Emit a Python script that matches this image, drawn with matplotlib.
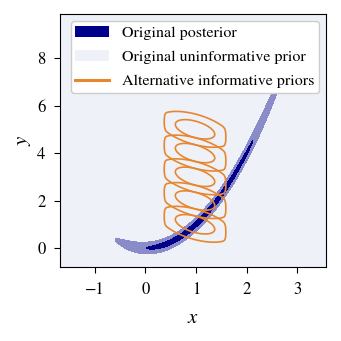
import numpy as np
import matplotlib
matplotlib.use("Agg")
import matplotlib.pyplot as plt
from matplotlib.patches import Patch
from matplotlib.lines import Line2D

# ---- data ----
x_ticks = [-1, 0, 1, 2, 3]
y_ticks = [0, 2, 4, 6, 8]
x_limits = (-1.69, 3.57)
y_limits = (-0.8, 9.86)

# alternative informative priors (five truncated, correlated Gaussians)
prior_centers_y = [1, 2, 3, 4, 5]
prior_center_x = 0.98
prior_half_axes = (0.39, 0.35)   # inner-contour half extents (x, sheared y)
prior_shear = 0.54
prior_clip = 0.61                # truncation half-width in x
prior_levels = [1.0, 3.42]

# original posterior: banana around y = x^2
post_center_x = 1.07
post_half_len = 1.67
post_width = 0.27
post_width_growth = 0.08
post_power = 4
post_inner_level = 0.16

labels = ["Original posterior", "Original uninformative prior",
          "Alternative informative priors"]

bg = "#eef2f8"
dark = "#00008b"
orange = "#e8862f"

plt.rcParams["font.family"] = "STIXGeneral"
plt.rcParams["mathtext.fontset"] = "stix"
plt.rcParams["font.size"] = 12

fig = plt.figure(figsize=(3.41, 3.41), dpi=100)
ax = fig.add_axes([0.176, 0.217, 0.780, 0.742])
ax.set_facecolor(bg)

gx = np.linspace(x_limits[0], x_limits[1], 700)
gy = np.linspace(y_limits[0], y_limits[1], 900)
X, Y = np.meshgrid(gx, gy)

for cy in prior_centers_y:
    xp = X - prior_center_x
    yp = Y - cy
    u = xp / prior_half_axes[0]
    v = (yp + prior_shear * xp) / prior_half_axes[1]
    g = u**2 + v**2 + (np.abs(xp) / prior_clip) ** 40
    ax.contour(X, Y, g, levels=prior_levels, colors=orange, linewidths=1.2)

s = post_width * (1 + post_width_growth * X**2)
v = (Y - X**2) / s
u = np.abs(X - post_center_x) / post_half_len
g = v**2 + u**post_power
ax.contourf(X, Y, g, levels=[0, 1], colors=[dark], alpha=0.42)
ax.contourf(X, Y, g, levels=[0, post_inner_level], colors=[dark])

ax.set_xlim(*x_limits)
ax.set_ylim(*y_limits)
ax.set_xticks(x_ticks)
ax.set_yticks(y_ticks)
ax.tick_params(length=4.5, pad=6, labelsize=12)
ax.set_xlabel("$x$", fontsize=15, labelpad=8)
ax.set_ylabel("$y$", fontsize=15, labelpad=3)

handles = [Patch(facecolor=dark), Patch(facecolor=bg),
           Line2D([], [], color=orange, lw=2.2)]
leg = ax.legend(handles, labels, loc="upper right", framealpha=1.0,
                fancybox=True, edgecolor="#cccccc", fontsize=11.5,
                labelspacing=0.62, handlelength=2.1, handletextpad=0.8,
                borderaxespad=0.45, borderpad=0.3)

fig.savefig("out.png", dpi=100)
